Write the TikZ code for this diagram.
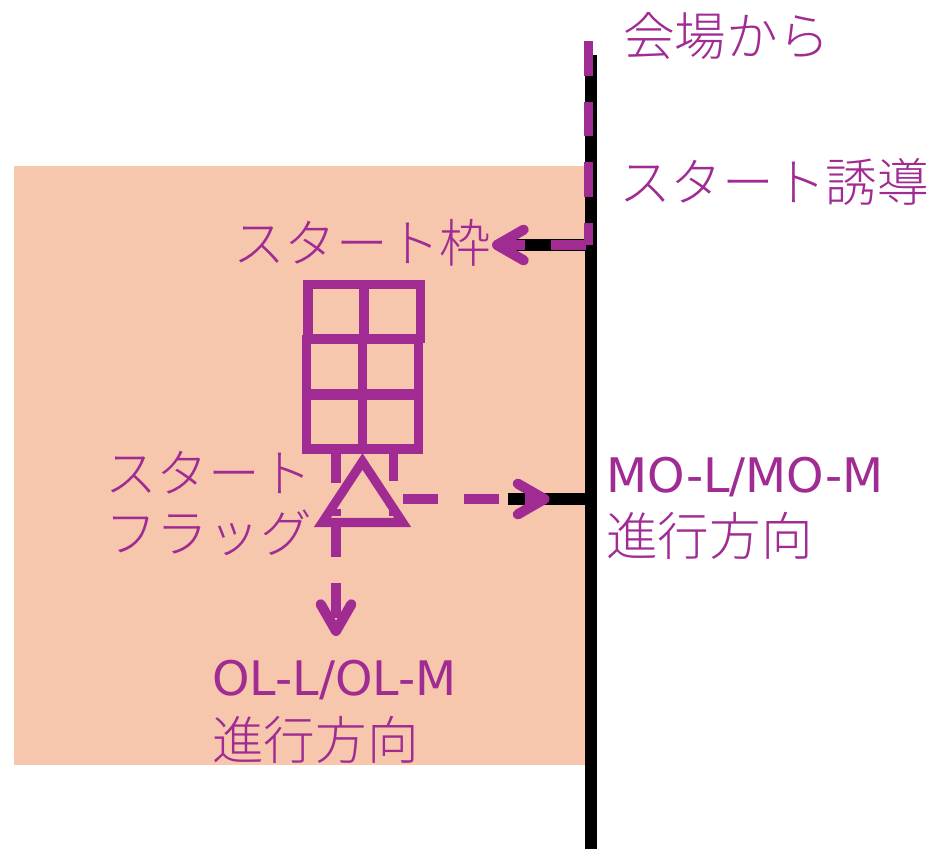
\documentclass[tikz,border=0pt]{standalone}
\usepackage{fontspec}
\setmainfont{DejaVu Sans}
\newfontfamily\cjk[UprightFont=* Light]{Noto Sans CJK JP}
\usetikzlibrary{arrows.meta}
\definecolor{peach}{HTML}{F6C7AD}
\definecolor{plum}{HTML}{A02B93}

\begin{document}
\begin{tikzpicture}[x=0.75pt, y=-0.75pt, align=left]
\tikzstyle{lb} = [text=plum, anchor=west, inner sep=0pt, font=\fontsize{38.7}{45}\selectfont\cjk]
\tikzstyle{lt} = [text=plum, anchor=west, inner sep=0pt, font=\fontsize{35.7}{45}\selectfont]
\tikzstyle{c} = [rectangle, draw=plum, line width=6.8pt, minimum width=42pt, minimum height=40.5pt, inner sep=0pt]
\tikzstyle{k} = [draw=black, line width=9pt]
\tikzstyle{p} = [draw=plum, line width=6.8pt]
\tikzstyle{pd} = [draw=plum, line width=6.8pt, dash pattern=on 26pt off 19.5pt]
\tikzstyle{a} = [-{Straight Barb[round, length=20pt, width=23pt, line width=7.6pt]}]

\useasboundingbox (0, 0) rectangle (930, 849);
\fill[peach] (14, 166) rectangle (585, 765);

% axis and stubs
\coordinate (top) at (591, 55);
\coordinate (bot) at (591, 849);
\coordinate (g1) at (516, 245);
\coordinate (g2) at (591, 245);
\coordinate (m1) at (508, 499);
\coordinate (m2) at (591, 499);
\draw[k] (top) to (bot);
\draw[k] (g1) to (g2);
\draw[k] (m1) to (m2);

% start box
\node[c](A) at (336, 311.5) {};
\node[c](B) at (392.5, 311.5) {};
\node[c](C) at (334.2, 366.7) {};
\node[c](D) at (390.5, 366.7) {};
\node[c](E) at (334.2, 422) {};
\node[c](F) at (390.5, 422) {};

% flag
\coordinate (t1) at (362.5, 461.5);
\coordinate (t2) at (322.3, 522.5);
\coordinate (t3) at (402.7, 522.5);
\draw[p, line join=miter] (t1) -- (t2) -- (t3) -- cycle;
\coordinate (l1) at (336, 453);
\coordinate (l2) at (336, 483);
\coordinate (l3) at (336, 509);
\coordinate (l4) at (336, 516);
\coordinate (r1) at (393.3, 453);
\coordinate (r2) at (393.3, 481);
\coordinate (r3) at (393.3, 509);
\coordinate (r4) at (393.3, 516);
\draw[p] (l1) to (l2);
\draw[p] (l3) to (l4);
\draw[p] (r1) to (r2);
\draw[p] (r3) to (r4);

% routes
\coordinate (s1) at (588.5, 41);
\coordinate (s2) at (588.5, 245);
\coordinate (s3) at (586, 245);
\coordinate (s4) at (492, 245);
\coordinate (f1) at (403.3, 499);
\coordinate (f2) at (549.5, 499);
\coordinate (d1) at (336, 522.4);
\coordinate (d2) at (336, 636);
\draw[pd] (s1) to (s2);
\draw[pd, a] (s3) to (s4);
\draw[pd, a] (f1) to (f2);
\draw[pd, a] (d1) to (d2);

% labels
\node[lb](from) at (623, 36) {会場から};
\node[lb](guide) at (619, 182) {スタート誘導};
\node[lb](frame) at (233, 243) {スタート枠};
\node[lb](flag) at (105, 504) {スタート\\フラッグ};
\node[lt](mo) at (606, 477) {MO-L/MO-M};
\node[lb](modir) at (606, 536) {進行方向};
\node[lt](ol) at (212, 680) {OL-L/OL-M};
\node[lb](oldir) at (212, 740) {進行方向};
\end{tikzpicture}
\end{document}
